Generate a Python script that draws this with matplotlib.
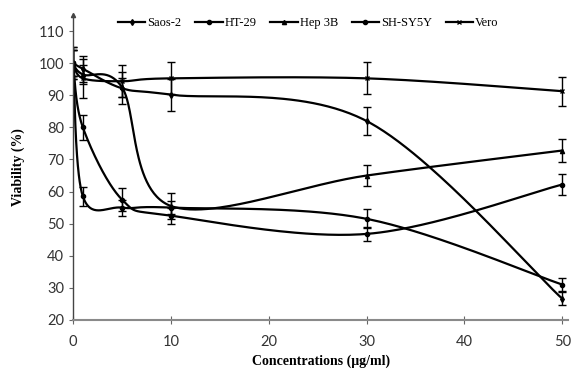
import matplotlib
matplotlib.use('Agg')
import matplotlib.pyplot as plt
import numpy as np

conc = [0, 1, 5, 10, 30, 50]

labels = ['Saos-2', 'HT-29', 'Hep 3B', 'SH-SY5Y', 'Vero']
saos2 = [100, 98.3, 92.2, 90.2, 82.0, 26.6]
ht29 = [100, 58.5, 55.0, 55.0, 51.5, 31.0]
hep3b = [100, 96.5, 92.5, 55.5, 65.0, 72.8]
shsy5y = [100, 80.0, 57.5, 52.5, 46.8, 62.2]
vero = [100, 95.3, 94.4, 95.3, 95.3, 91.3]

saos2_err = [5, 4, 5, 5, 4.3, 2]
ht29_err = [4, 3, 2.5, 2, 3, 2]
hep3b_err = [4, 3, 3, 4, 3.3, 3.7]
shsy5y_err = [4, 4, 3.5, 2.5, 2.2, 3.4]
vero_err = [5, 6, 5, 5, 5, 4.5]

series = [saos2, ht29, hep3b, shsy5y, vero]
errors = [saos2_err, ht29_err, hep3b_err, shsy5y_err, vero_err]
markers = ['d', 'o', '^', 'o', 'x']


def smooth(x, y, n=60):
    # Excel style smoothed line: Catmull-Rom control points on Bezier segments
    p = np.column_stack([x, y]).astype(float)
    out = []
    for i in range(len(p) - 1):
        p0 = p[i - 1] if i > 0 else p[i]
        p3 = p[i + 2] if i + 2 < len(p) else p[i + 1]
        c1 = p[i] + (p[i + 1] - p0) / 6
        c2 = p[i + 1] - (p3 - p[i]) / 6
        t = np.linspace(0, 1, n)[:, None]
        seg = ((1 - t) ** 3) * p[i] + 3 * ((1 - t) ** 2) * t * c1 \
            + 3 * (1 - t) * t ** 2 * c2 + t ** 3 * p[i + 1]
        out.append(seg)
    out = np.vstack(out)
    return out[:, 0], out[:, 1]


fig = plt.figure(figsize=(5.71, 3.79), dpi=100)
ax = fig.add_axes([0.128, 0.156, 0.867, 0.804])

for y, e, m, lab in zip(series, errors, markers, labels):
    sx, sy = smooth(conc, y)
    ax.plot(sx, sy, color='k', lw=1.6)
    ax.errorbar(conc, y, yerr=e, fmt='none', ecolor='k', elinewidth=1.0,
                capsize=3, capthick=1.0)
    ax.plot(conc, y, linestyle='none', marker=m, color='k', markersize=3)
    ax.plot([], [], color='k', lw=1.6, marker=m, markersize=3, label=lab)

ax.set_xlim(0, 50.6)
ax.set_ylim(20, 115)
ax.set_xticks([0, 10, 20, 30, 40, 50])
ax.set_yticks(range(20, 111, 10))

for s in ['top', 'right']:
    ax.spines[s].set_visible(False)
ax.spines['left'].set_color('#444444')
ax.spines['bottom'].set_color('#8a8a8a')
ax.spines['left'].set_linewidth(1.0)
ax.spines['bottom'].set_linewidth(1.5)
ax.plot(0, 1, marker='^', color='#444444', markersize=3,
        transform=ax.transAxes, clip_on=False)

ax.tick_params(axis='both', direction='out', length=3, color='#666666',
               labelsize=10.5)
ax.tick_params(axis='x', direction='inout', length=6, pad=8)
for t in ax.get_xticklabels() + ax.get_yticklabels():
    t.set_fontfamily('Lato')
    t.set_color('#333333')

ax.set_xlabel('Concentrations (\u03bcg/ml)', fontsize=10, fontweight='bold',
              family='Liberation Serif', labelpad=4)
ax.set_ylabel('Viability (%)', fontsize=10, fontweight='bold',
              family='Liberation Serif', labelpad=10)

ax.legend(loc='upper center', bbox_to_anchor=(0.475, 1.03), ncol=5,
          frameon=False, handlelength=2.2, handletextpad=0.15,
          columnspacing=1.1, prop={'family': 'Liberation Serif', 'size': 9})

fig.savefig('out.png', dpi=100)
